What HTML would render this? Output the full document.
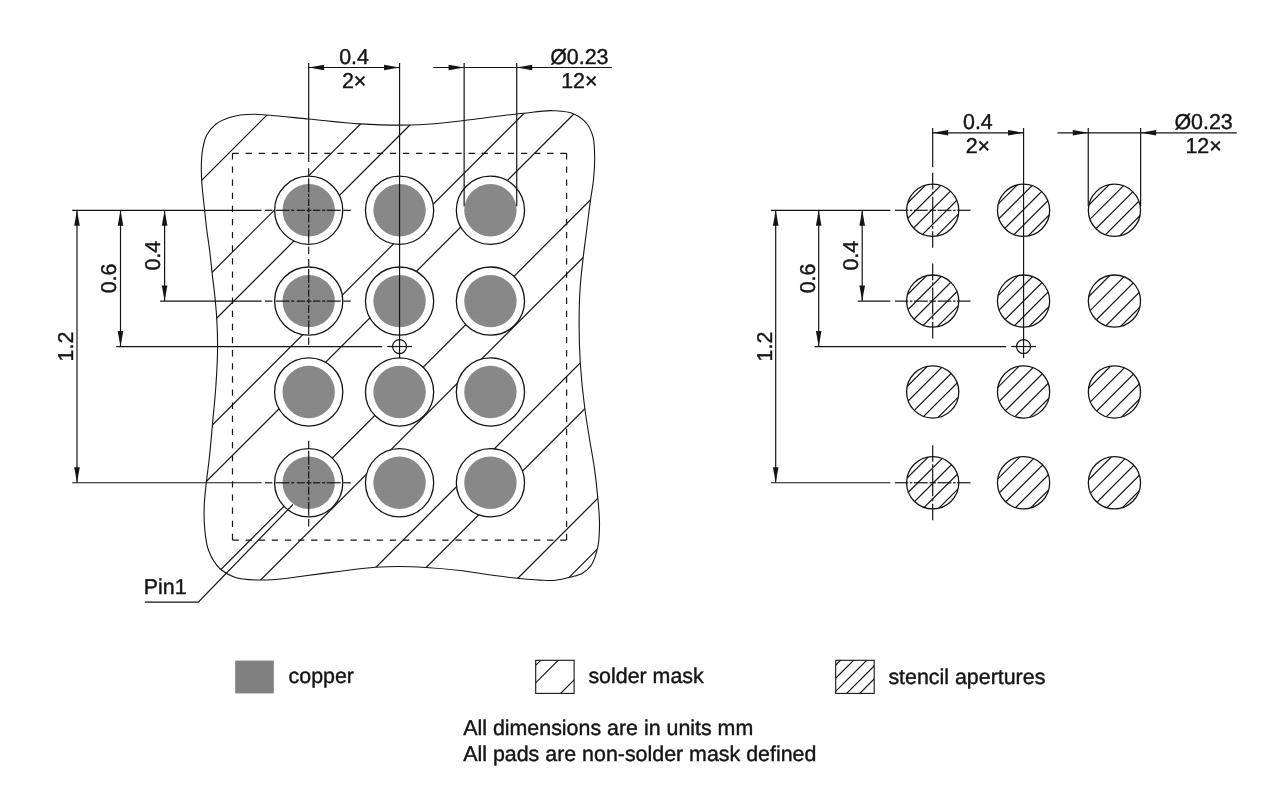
<!DOCTYPE html>
<html lang="en">
<head>
<meta charset="utf-8">
<title>Footprint and stencil drawing</title>
<style>
html,body{margin:0;padding:0;background:#fff;}
body{width:1280px;height:812px;overflow:hidden;font-family:"Liberation Sans",sans-serif;}
svg{display:block;}
text{stroke:#141414;stroke-width:0.4px;text-rendering:geometricPrecision;}
svg{display:block;will-change:transform;}
</style>
</head>
<body>
<svg width="1280" height="812" viewBox="0 0 1280 812" font-family="'Liberation Sans', sans-serif" fill="#141414" stroke="#141414" stroke-linecap="butt">
<defs>
<clipPath id="cpOut"><path d="M201.3,168.8 C201.32,162.23 201.47,155.53 202.7,149.1 C203.6,144.43 204.42,139.44 206.6,135.3 C208.73,131.26 211.96,127.38 215.5,124.5 C219.4,121.32 224.51,119.29 229.3,117.6 C237.31,114.77 246.33,114.16 254.9,114.2 C258.83,114.22 262.77,114.71 266.7,115 C280.72,116.03 294.7,117.67 308.7,119 C325.9,120.64 343.06,122.9 360.3,123.9 C373.41,124.66 386.56,125.13 399.7,125.1 C406.47,125.08 413.24,124.99 420,124.7 C434.68,124.06 449.29,122.13 463.9,120.5 C475.95,119.16 487.96,117.43 500,116 C507.86,115.07 515.72,114.11 523.6,113.3 C533.45,112.29 543.38,110.14 553.2,110.7 C560.12,111.09 567.73,111.16 573.9,114 C578.59,116.16 583.47,119.47 586.7,123.5 C589.38,126.84 591.24,131.19 592.6,135.3 C594.64,141.47 594.36,148.42 594.6,155 C594.88,162.88 594.36,170.84 593.6,178.7 C592.93,185.63 591.55,192.49 590.6,199.4 C589.2,209.59 588,219.8 586.7,230 C585.5,239.43 584.18,248.85 583.1,258.3 C582.02,267.75 580.87,277.21 580.2,286.7 C579.34,298.93 579.11,311.23 579.1,323.5 C579.09,336.23 579.44,348.99 580.2,361.7 C581.14,377.34 582.74,392.97 584.8,408.5 C586.19,419.03 588.01,429.51 589.7,440 C591.29,449.87 593.23,459.7 594.6,469.6 C595.96,479.4 597.06,489.24 597.9,499.1 C598.63,507.62 599.6,516.17 599.5,524.7 C599.42,531.94 599.44,539.39 597.9,546.4 C596.41,553.17 594.91,560.82 590.6,566.1 C588.46,568.72 585.7,571.22 582.8,573 C579.04,575.31 574.33,576.12 570,577.3 C565.15,578.62 560.18,579.83 555.2,580.3 C550.09,580.79 544.86,580.31 539.7,580.1 C532.22,579.8 524.75,579.05 517.3,578.3 C509.18,577.48 501.09,576.38 493,575.3 C482.82,573.93 472.7,572.04 462.5,570.8 C450.34,569.33 438.12,568.23 425.9,567.5 C417.11,566.98 408.3,566.51 399.5,566.5 C391.4,566.49 383.28,566.77 375.2,567.3 C363.63,568.06 352.12,569.81 340.6,571.2 C327.05,572.84 313.53,574.7 300,576.5 C295.03,577.16 290.08,577.97 285.1,578.5 C277,579.36 268.82,580.18 260.7,580 C251.85,579.81 242.31,580.16 234.2,577 C229.12,575.02 223.78,572.17 219.8,568.5 C214.82,563.91 211.21,557.16 208.7,550.8 C205.98,543.93 205.45,536.06 204.7,528.6 C203.97,521.29 203.98,513.85 204.2,506.5 C204.45,497.98 205.58,489.48 206.5,481 C207.26,473.99 208.31,467.01 209.1,460 C210.45,448.02 211.4,436 212.5,424 C213.67,411.27 215.05,398.55 215.9,385.8 C216.78,372.59 217.61,359.34 217.6,346.1 C217.59,336.67 217.3,327.22 216.7,317.8 C216.34,312.13 215.83,306.46 215.3,300.8 C214.37,290.88 213,281 211.9,271.1 C211.12,264.07 210.48,257.02 209.6,250 C208.77,243.32 207.64,236.68 206.8,230 C205.97,223.41 205.3,216.8 204.6,210.2 C203.55,200.21 202.22,190.23 201.7,180.2 C201.5,176.4 201.29,172.6 201.3,168.8Z"/></clipPath>
<mask id="mkMask" maskUnits="userSpaceOnUse" x="0" y="0" width="1280" height="812">
<path d="M201.3,168.8 C201.32,162.23 201.47,155.53 202.7,149.1 C203.6,144.43 204.42,139.44 206.6,135.3 C208.73,131.26 211.96,127.38 215.5,124.5 C219.4,121.32 224.51,119.29 229.3,117.6 C237.31,114.77 246.33,114.16 254.9,114.2 C258.83,114.22 262.77,114.71 266.7,115 C280.72,116.03 294.7,117.67 308.7,119 C325.9,120.64 343.06,122.9 360.3,123.9 C373.41,124.66 386.56,125.13 399.7,125.1 C406.47,125.08 413.24,124.99 420,124.7 C434.68,124.06 449.29,122.13 463.9,120.5 C475.95,119.16 487.96,117.43 500,116 C507.86,115.07 515.72,114.11 523.6,113.3 C533.45,112.29 543.38,110.14 553.2,110.7 C560.12,111.09 567.73,111.16 573.9,114 C578.59,116.16 583.47,119.47 586.7,123.5 C589.38,126.84 591.24,131.19 592.6,135.3 C594.64,141.47 594.36,148.42 594.6,155 C594.88,162.88 594.36,170.84 593.6,178.7 C592.93,185.63 591.55,192.49 590.6,199.4 C589.2,209.59 588,219.8 586.7,230 C585.5,239.43 584.18,248.85 583.1,258.3 C582.02,267.75 580.87,277.21 580.2,286.7 C579.34,298.93 579.11,311.23 579.1,323.5 C579.09,336.23 579.44,348.99 580.2,361.7 C581.14,377.34 582.74,392.97 584.8,408.5 C586.19,419.03 588.01,429.51 589.7,440 C591.29,449.87 593.23,459.7 594.6,469.6 C595.96,479.4 597.06,489.24 597.9,499.1 C598.63,507.62 599.6,516.17 599.5,524.7 C599.42,531.94 599.44,539.39 597.9,546.4 C596.41,553.17 594.91,560.82 590.6,566.1 C588.46,568.72 585.7,571.22 582.8,573 C579.04,575.31 574.33,576.12 570,577.3 C565.15,578.62 560.18,579.83 555.2,580.3 C550.09,580.79 544.86,580.31 539.7,580.1 C532.22,579.8 524.75,579.05 517.3,578.3 C509.18,577.48 501.09,576.38 493,575.3 C482.82,573.93 472.7,572.04 462.5,570.8 C450.34,569.33 438.12,568.23 425.9,567.5 C417.11,566.98 408.3,566.51 399.5,566.5 C391.4,566.49 383.28,566.77 375.2,567.3 C363.63,568.06 352.12,569.81 340.6,571.2 C327.05,572.84 313.53,574.7 300,576.5 C295.03,577.16 290.08,577.97 285.1,578.5 C277,579.36 268.82,580.18 260.7,580 C251.85,579.81 242.31,580.16 234.2,577 C229.12,575.02 223.78,572.17 219.8,568.5 C214.82,563.91 211.21,557.16 208.7,550.8 C205.98,543.93 205.45,536.06 204.7,528.6 C203.97,521.29 203.98,513.85 204.2,506.5 C204.45,497.98 205.58,489.48 206.5,481 C207.26,473.99 208.31,467.01 209.1,460 C210.45,448.02 211.4,436 212.5,424 C213.67,411.27 215.05,398.55 215.9,385.8 C216.78,372.59 217.61,359.34 217.6,346.1 C217.59,336.67 217.3,327.22 216.7,317.8 C216.34,312.13 215.83,306.46 215.3,300.8 C214.37,290.88 213,281 211.9,271.1 C211.12,264.07 210.48,257.02 209.6,250 C208.77,243.32 207.64,236.68 206.8,230 C205.97,223.41 205.3,216.8 204.6,210.2 C203.55,200.21 202.22,190.23 201.7,180.2 C201.5,176.4 201.29,172.6 201.3,168.8Z" fill="#fff" stroke="none"/>
<circle cx="308.7" cy="210.3" r="34.1" fill="#000" stroke="none"/>
<circle cx="308.7" cy="301.12" r="34.1" fill="#000" stroke="none"/>
<circle cx="308.7" cy="391.94" r="34.1" fill="#000" stroke="none"/>
<circle cx="308.7" cy="482.76" r="34.1" fill="#000" stroke="none"/>
<circle cx="399.57" cy="210.3" r="34.1" fill="#000" stroke="none"/>
<circle cx="399.57" cy="301.12" r="34.1" fill="#000" stroke="none"/>
<circle cx="399.57" cy="391.94" r="34.1" fill="#000" stroke="none"/>
<circle cx="399.57" cy="482.76" r="34.1" fill="#000" stroke="none"/>
<circle cx="490.44" cy="210.3" r="34.1" fill="#000" stroke="none"/>
<circle cx="490.44" cy="301.12" r="34.1" fill="#000" stroke="none"/>
<circle cx="490.44" cy="391.94" r="34.1" fill="#000" stroke="none"/>
<circle cx="490.44" cy="482.76" r="34.1" fill="#000" stroke="none"/>
</mask>
<clipPath id="cs00"><circle cx="932.7" cy="210.3" r="26.1"/></clipPath>
<clipPath id="cs01"><circle cx="932.7" cy="301.12" r="26.1"/></clipPath>
<clipPath id="cs02"><circle cx="932.7" cy="391.94" r="26.1"/></clipPath>
<clipPath id="cs03"><circle cx="932.7" cy="482.76" r="26.1"/></clipPath>
<clipPath id="cs10"><circle cx="1023.57" cy="210.3" r="26.1"/></clipPath>
<clipPath id="cs11"><circle cx="1023.57" cy="301.12" r="26.1"/></clipPath>
<clipPath id="cs12"><circle cx="1023.57" cy="391.94" r="26.1"/></clipPath>
<clipPath id="cs13"><circle cx="1023.57" cy="482.76" r="26.1"/></clipPath>
<clipPath id="cs20"><circle cx="1114.44" cy="210.3" r="26.1"/></clipPath>
<clipPath id="cs21"><circle cx="1114.44" cy="301.12" r="26.1"/></clipPath>
<clipPath id="cs22"><circle cx="1114.44" cy="391.94" r="26.1"/></clipPath>
<clipPath id="cs23"><circle cx="1114.44" cy="482.76" r="26.1"/></clipPath>
<clipPath id="cbM"><rect x="535.7" y="660.3" width="38.4" height="33.1"/></clipPath>
<clipPath id="cbS"><rect x="835.7" y="660.3" width="38.5" height="33.1"/></clipPath>
<pattern id="cu" patternUnits="userSpaceOnUse" x="0" y="0" width="4" height="2"><rect x="0" y="0" width="4" height="2" fill="#8a8a8a" stroke="none"/><rect x="0" y="0" width="4" height="1" fill="#868686" stroke="none"/></pattern>
</defs>
<rect x="0" y="0" width="1280" height="812" fill="#fff" stroke="none"/>
<g mask="url(#mkMask)" stroke-width="1">
<line x1="-318" y1="700" x2="332" y2="50" stroke-width="1.2" />
<line x1="-165.1" y1="700" x2="484.9" y2="50" stroke-width="1.2" />
<line x1="-12.2" y1="700" x2="637.8" y2="50" stroke-width="1.2" />
<line x1="140.7" y1="700" x2="790.7" y2="50" stroke-width="1.2" />
<line x1="293.6" y1="700" x2="943.6" y2="50" stroke-width="1.2" />
<line x1="446.5" y1="700" x2="1096.5" y2="50" stroke-width="1.2" />
<line x1="-215.5" y1="700" x2="434.5" y2="50" stroke-width="1.2" />
<line x1="-62.6" y1="700" x2="587.4" y2="50" stroke-width="1.2" />
<line x1="90.3" y1="700" x2="740.3" y2="50" stroke-width="1.2" />
<line x1="243.2" y1="700" x2="893.2" y2="50" stroke-width="1.2" />
<line x1="396.1" y1="700" x2="1046.1" y2="50" stroke-width="1.2" />
</g>
<path d="M201.3,168.8 C201.32,162.23 201.47,155.53 202.7,149.1 C203.6,144.43 204.42,139.44 206.6,135.3 C208.73,131.26 211.96,127.38 215.5,124.5 C219.4,121.32 224.51,119.29 229.3,117.6 C237.31,114.77 246.33,114.16 254.9,114.2 C258.83,114.22 262.77,114.71 266.7,115 C280.72,116.03 294.7,117.67 308.7,119 C325.9,120.64 343.06,122.9 360.3,123.9 C373.41,124.66 386.56,125.13 399.7,125.1 C406.47,125.08 413.24,124.99 420,124.7 C434.68,124.06 449.29,122.13 463.9,120.5 C475.95,119.16 487.96,117.43 500,116 C507.86,115.07 515.72,114.11 523.6,113.3 C533.45,112.29 543.38,110.14 553.2,110.7 C560.12,111.09 567.73,111.16 573.9,114 C578.59,116.16 583.47,119.47 586.7,123.5 C589.38,126.84 591.24,131.19 592.6,135.3 C594.64,141.47 594.36,148.42 594.6,155 C594.88,162.88 594.36,170.84 593.6,178.7 C592.93,185.63 591.55,192.49 590.6,199.4 C589.2,209.59 588,219.8 586.7,230 C585.5,239.43 584.18,248.85 583.1,258.3 C582.02,267.75 580.87,277.21 580.2,286.7 C579.34,298.93 579.11,311.23 579.1,323.5 C579.09,336.23 579.44,348.99 580.2,361.7 C581.14,377.34 582.74,392.97 584.8,408.5 C586.19,419.03 588.01,429.51 589.7,440 C591.29,449.87 593.23,459.7 594.6,469.6 C595.96,479.4 597.06,489.24 597.9,499.1 C598.63,507.62 599.6,516.17 599.5,524.7 C599.42,531.94 599.44,539.39 597.9,546.4 C596.41,553.17 594.91,560.82 590.6,566.1 C588.46,568.72 585.7,571.22 582.8,573 C579.04,575.31 574.33,576.12 570,577.3 C565.15,578.62 560.18,579.83 555.2,580.3 C550.09,580.79 544.86,580.31 539.7,580.1 C532.22,579.8 524.75,579.05 517.3,578.3 C509.18,577.48 501.09,576.38 493,575.3 C482.82,573.93 472.7,572.04 462.5,570.8 C450.34,569.33 438.12,568.23 425.9,567.5 C417.11,566.98 408.3,566.51 399.5,566.5 C391.4,566.49 383.28,566.77 375.2,567.3 C363.63,568.06 352.12,569.81 340.6,571.2 C327.05,572.84 313.53,574.7 300,576.5 C295.03,577.16 290.08,577.97 285.1,578.5 C277,579.36 268.82,580.18 260.7,580 C251.85,579.81 242.31,580.16 234.2,577 C229.12,575.02 223.78,572.17 219.8,568.5 C214.82,563.91 211.21,557.16 208.7,550.8 C205.98,543.93 205.45,536.06 204.7,528.6 C203.97,521.29 203.98,513.85 204.2,506.5 C204.45,497.98 205.58,489.48 206.5,481 C207.26,473.99 208.31,467.01 209.1,460 C210.45,448.02 211.4,436 212.5,424 C213.67,411.27 215.05,398.55 215.9,385.8 C216.78,372.59 217.61,359.34 217.6,346.1 C217.59,336.67 217.3,327.22 216.7,317.8 C216.34,312.13 215.83,306.46 215.3,300.8 C214.37,290.88 213,281 211.9,271.1 C211.12,264.07 210.48,257.02 209.6,250 C208.77,243.32 207.64,236.68 206.8,230 C205.97,223.41 205.3,216.8 204.6,210.2 C203.55,200.21 202.22,190.23 201.7,180.2 C201.5,176.4 201.29,172.6 201.3,168.8Z" fill="none" stroke-width="1.1"/>
<line x1="232.5" y1="153.3" x2="566.6" y2="153.3" stroke-width="1.2" stroke-dasharray="6.3 6.81"/>
<line x1="232.5" y1="540.2" x2="566.6" y2="540.2" stroke-width="1.2" stroke-dasharray="6.3 6.81"/>
<line x1="232.5" y1="153.3" x2="232.5" y2="540.2" stroke-width="1.2" stroke-dasharray="6.3 6.82"/>
<line x1="566.6" y1="153.3" x2="566.6" y2="540.2" stroke-width="1.2" stroke-dasharray="6.3 6.82"/>
<circle cx="308.7" cy="210.3" r="26.2" fill="url(#cu)" stroke="none"/>
<circle cx="308.7" cy="210.3" r="34.1" fill="none" stroke-width="1.3"/>
<circle cx="308.7" cy="301.12" r="26.2" fill="url(#cu)" stroke="none"/>
<circle cx="308.7" cy="301.12" r="34.1" fill="none" stroke-width="1.3"/>
<circle cx="308.7" cy="391.94" r="26.2" fill="url(#cu)" stroke="none"/>
<circle cx="308.7" cy="391.94" r="34.1" fill="none" stroke-width="1.3"/>
<circle cx="308.7" cy="482.76" r="26.2" fill="url(#cu)" stroke="none"/>
<circle cx="308.7" cy="482.76" r="34.1" fill="none" stroke-width="1.3"/>
<circle cx="399.57" cy="210.3" r="26.2" fill="url(#cu)" stroke="none"/>
<circle cx="399.57" cy="210.3" r="34.1" fill="none" stroke-width="1.3"/>
<circle cx="399.57" cy="301.12" r="26.2" fill="url(#cu)" stroke="none"/>
<circle cx="399.57" cy="301.12" r="34.1" fill="none" stroke-width="1.3"/>
<circle cx="399.57" cy="391.94" r="26.2" fill="url(#cu)" stroke="none"/>
<circle cx="399.57" cy="391.94" r="34.1" fill="none" stroke-width="1.3"/>
<circle cx="399.57" cy="482.76" r="26.2" fill="url(#cu)" stroke="none"/>
<circle cx="399.57" cy="482.76" r="34.1" fill="none" stroke-width="1.3"/>
<circle cx="490.44" cy="210.3" r="26.2" fill="url(#cu)" stroke="none"/>
<circle cx="490.44" cy="210.3" r="34.1" fill="none" stroke-width="1.3"/>
<circle cx="490.44" cy="301.12" r="26.2" fill="url(#cu)" stroke="none"/>
<circle cx="490.44" cy="301.12" r="34.1" fill="none" stroke-width="1.3"/>
<circle cx="490.44" cy="391.94" r="26.2" fill="url(#cu)" stroke="none"/>
<circle cx="490.44" cy="391.94" r="34.1" fill="none" stroke-width="1.3"/>
<circle cx="490.44" cy="482.76" r="26.2" fill="url(#cu)" stroke="none"/>
<circle cx="490.44" cy="482.76" r="34.1" fill="none" stroke-width="1.3"/>
<line x1="308.7" y1="63" x2="308.7" y2="162" stroke-width="1.2" />
<line x1="399.57" y1="63" x2="399.57" y2="358.13" stroke-width="1.2" />
<line x1="308.7" y1="67.5" x2="399.57" y2="67.5" stroke-width="1.2" />
<polygon points="308.7,67.5 324.2,64.7 324.2,70.3" fill="#141414" stroke="none"/>
<polygon points="399.57,67.5 384.07,64.7 384.07,70.3" fill="#141414" stroke="none"/>
<text x="354.1" y="63.8" text-anchor="middle" font-size="21.4">0.4</text>
<text x="354.1" y="87.9" text-anchor="middle" font-size="21.4">2×</text>
<line x1="464.14" y1="63" x2="464.14" y2="206.3" stroke-width="1.2" />
<line x1="516.74" y1="63" x2="516.74" y2="206.3" stroke-width="1.2" />
<line x1="433.3" y1="67.5" x2="611.9" y2="67.5" stroke-width="1.2" />
<polygon points="464.14,67.5 448.64,64.7 448.64,70.3" fill="#141414" stroke="none"/>
<polygon points="516.74,67.5 532.24,64.7 532.24,70.3" fill="#141414" stroke="none"/>
<text x="579.3" y="63.6" text-anchor="middle" font-size="21.4">Ø0.23</text>
<text x="579.3" y="87.9" text-anchor="middle" font-size="21.4">12×</text>
<line x1="72.2" y1="210.3" x2="261.6" y2="210.3" stroke-width="1.2" />
<line x1="160.1" y1="301.12" x2="261.6" y2="301.12" stroke-width="1.2" />
<line x1="116.2" y1="346.53" x2="382.17" y2="346.53" stroke-width="1.2" />
<line x1="72.2" y1="482.76" x2="261.6" y2="482.76" stroke-width="1.2" />
<line x1="77" y1="210.3" x2="77" y2="482.76" stroke-width="1.2" />
<polygon points="77,210.3 74.2,225.8 79.8,225.8" fill="#141414" stroke="none"/>
<polygon points="77,482.76 74.2,467.26 79.8,467.26" fill="#141414" stroke="none"/>
<line x1="120.5" y1="210.3" x2="120.5" y2="346.53" stroke-width="1.2" />
<polygon points="120.5,210.3 117.7,225.8 123.3,225.8" fill="#141414" stroke="none"/>
<polygon points="120.5,346.53 117.7,331.03 123.3,331.03" fill="#141414" stroke="none"/>
<line x1="164.6" y1="210.3" x2="164.6" y2="301.12" stroke-width="1.2" />
<polygon points="164.6,210.3 161.8,225.8 167.4,225.8" fill="#141414" stroke="none"/>
<polygon points="164.6,301.12 161.8,285.62 167.4,285.62" fill="#141414" stroke="none"/>
<text x="72.9" y="346.53" text-anchor="middle" font-size="21.4" transform="rotate(-90 72.9 346.53)">1.2</text>
<text x="116.4" y="278.41" text-anchor="middle" font-size="21.4" transform="rotate(-90 116.4 278.41)">0.6</text>
<text x="160.5" y="255.71" text-anchor="middle" font-size="21.4" transform="rotate(-90 160.5 255.71)">0.4</text>
<circle cx="399.57" cy="346.53" r="7" fill="none" stroke-width="1.2"/>
<line x1="387.17" y1="346.53" x2="411.97" y2="346.53" stroke-width="1.2" />
<line x1="308.7" y1="168.2" x2="308.7" y2="175.5" stroke-width="1.2" />
<line x1="308.7" y1="178.3" x2="308.7" y2="192.2" stroke-width="1.2" />
<line x1="308.7" y1="193.8" x2="308.7" y2="197" stroke-width="1.2" />
<line x1="308.7" y1="198.7" x2="308.7" y2="206" stroke-width="1.2" />
<line x1="308.7" y1="207.6" x2="308.7" y2="212.5" stroke-width="1.2" />
<line x1="308.7" y1="214.1" x2="308.7" y2="222.3" stroke-width="1.2" />
<line x1="308.7" y1="224.7" x2="308.7" y2="227.9" stroke-width="1.2" />
<line x1="308.7" y1="229.6" x2="308.7" y2="243.4" stroke-width="1.2" />
<line x1="308.7" y1="246.6" x2="308.7" y2="254" stroke-width="1.2" />
<line x1="265" y1="210.3" x2="272.4" y2="210.3" stroke-width="1.2" />
<line x1="275.6" y1="210.3" x2="289.4" y2="210.3" stroke-width="1.2" />
<line x1="291.1" y1="210.3" x2="294.3" y2="210.3" stroke-width="1.2" />
<line x1="296.7" y1="210.3" x2="304.9" y2="210.3" stroke-width="1.2" />
<line x1="306.5" y1="210.3" x2="311.4" y2="210.3" stroke-width="1.2" />
<line x1="313" y1="210.3" x2="320.3" y2="210.3" stroke-width="1.2" />
<line x1="322" y1="210.3" x2="325.2" y2="210.3" stroke-width="1.2" />
<line x1="326.8" y1="210.3" x2="340.7" y2="210.3" stroke-width="1.2" />
<line x1="343.5" y1="210.3" x2="350.8" y2="210.3" stroke-width="1.2" />
<line x1="308.7" y1="259.02" x2="308.7" y2="266.32" stroke-width="1.2" />
<line x1="308.7" y1="269.12" x2="308.7" y2="283.02" stroke-width="1.2" />
<line x1="308.7" y1="284.62" x2="308.7" y2="287.82" stroke-width="1.2" />
<line x1="308.7" y1="289.52" x2="308.7" y2="296.82" stroke-width="1.2" />
<line x1="308.7" y1="298.42" x2="308.7" y2="303.32" stroke-width="1.2" />
<line x1="308.7" y1="304.92" x2="308.7" y2="313.12" stroke-width="1.2" />
<line x1="308.7" y1="315.52" x2="308.7" y2="318.72" stroke-width="1.2" />
<line x1="308.7" y1="320.42" x2="308.7" y2="334.22" stroke-width="1.2" />
<line x1="308.7" y1="337.42" x2="308.7" y2="344.82" stroke-width="1.2" />
<line x1="265" y1="301.12" x2="272.4" y2="301.12" stroke-width="1.2" />
<line x1="275.6" y1="301.12" x2="289.4" y2="301.12" stroke-width="1.2" />
<line x1="291.1" y1="301.12" x2="294.3" y2="301.12" stroke-width="1.2" />
<line x1="296.7" y1="301.12" x2="304.9" y2="301.12" stroke-width="1.2" />
<line x1="306.5" y1="301.12" x2="311.4" y2="301.12" stroke-width="1.2" />
<line x1="313" y1="301.12" x2="320.3" y2="301.12" stroke-width="1.2" />
<line x1="322" y1="301.12" x2="325.2" y2="301.12" stroke-width="1.2" />
<line x1="326.8" y1="301.12" x2="340.7" y2="301.12" stroke-width="1.2" />
<line x1="343.5" y1="301.12" x2="350.8" y2="301.12" stroke-width="1.2" />
<line x1="308.7" y1="440.66" x2="308.7" y2="447.96" stroke-width="1.2" />
<line x1="308.7" y1="450.76" x2="308.7" y2="464.66" stroke-width="1.2" />
<line x1="308.7" y1="466.26" x2="308.7" y2="469.46" stroke-width="1.2" />
<line x1="308.7" y1="471.16" x2="308.7" y2="478.46" stroke-width="1.2" />
<line x1="308.7" y1="480.06" x2="308.7" y2="484.96" stroke-width="1.2" />
<line x1="308.7" y1="486.56" x2="308.7" y2="494.76" stroke-width="1.2" />
<line x1="308.7" y1="497.16" x2="308.7" y2="500.36" stroke-width="1.2" />
<line x1="308.7" y1="502.06" x2="308.7" y2="515.86" stroke-width="1.2" />
<line x1="308.7" y1="519.06" x2="308.7" y2="526.46" stroke-width="1.2" />
<line x1="265" y1="482.76" x2="272.4" y2="482.76" stroke-width="1.2" />
<line x1="275.6" y1="482.76" x2="289.4" y2="482.76" stroke-width="1.2" />
<line x1="291.1" y1="482.76" x2="294.3" y2="482.76" stroke-width="1.2" />
<line x1="296.7" y1="482.76" x2="304.9" y2="482.76" stroke-width="1.2" />
<line x1="306.5" y1="482.76" x2="311.4" y2="482.76" stroke-width="1.2" />
<line x1="313" y1="482.76" x2="320.3" y2="482.76" stroke-width="1.2" />
<line x1="322" y1="482.76" x2="325.2" y2="482.76" stroke-width="1.2" />
<line x1="326.8" y1="482.76" x2="340.7" y2="482.76" stroke-width="1.2" />
<line x1="343.5" y1="482.76" x2="350.8" y2="482.76" stroke-width="1.2" />
<polyline points="145,602.2 198.3,602.2 293,504.5" fill="none" stroke-width="1.2"/>
<text x="143.8" y="594.3" text-anchor="start" font-size="21.4">Pin1</text>
<g clip-path="url(#cs00)">
<line x1="844.95" y1="250.3" x2="924.95" y2="170.3" stroke-width="1.2" />
<line x1="860.4" y1="250.3" x2="940.4" y2="170.3" stroke-width="1.2" />
<line x1="875.85" y1="250.3" x2="955.85" y2="170.3" stroke-width="1.2" />
<line x1="891.3" y1="250.3" x2="971.3" y2="170.3" stroke-width="1.2" />
<line x1="906.75" y1="250.3" x2="986.75" y2="170.3" stroke-width="1.2" />
<line x1="922.2" y1="250.3" x2="1002.2" y2="170.3" stroke-width="1.2" />
<line x1="937.65" y1="250.3" x2="1017.65" y2="170.3" stroke-width="1.2" />
</g>
<circle cx="932.7" cy="210.3" r="26.1" fill="none" stroke-width="1.3"/>
<g clip-path="url(#cs01)">
<line x1="845.63" y1="341.12" x2="925.63" y2="261.12" stroke-width="1.2" />
<line x1="861.08" y1="341.12" x2="941.08" y2="261.12" stroke-width="1.2" />
<line x1="876.53" y1="341.12" x2="956.53" y2="261.12" stroke-width="1.2" />
<line x1="891.98" y1="341.12" x2="971.98" y2="261.12" stroke-width="1.2" />
<line x1="907.43" y1="341.12" x2="987.43" y2="261.12" stroke-width="1.2" />
<line x1="922.88" y1="341.12" x2="1002.88" y2="261.12" stroke-width="1.2" />
<line x1="938.33" y1="341.12" x2="1018.33" y2="261.12" stroke-width="1.2" />
</g>
<circle cx="932.7" cy="301.12" r="26.1" fill="none" stroke-width="1.3"/>
<g clip-path="url(#cs02)">
<line x1="846.31" y1="431.94" x2="926.31" y2="351.94" stroke-width="1.2" />
<line x1="861.76" y1="431.94" x2="941.76" y2="351.94" stroke-width="1.2" />
<line x1="877.21" y1="431.94" x2="957.21" y2="351.94" stroke-width="1.2" />
<line x1="892.66" y1="431.94" x2="972.66" y2="351.94" stroke-width="1.2" />
<line x1="908.11" y1="431.94" x2="988.11" y2="351.94" stroke-width="1.2" />
<line x1="923.56" y1="431.94" x2="1003.56" y2="351.94" stroke-width="1.2" />
<line x1="939.01" y1="431.94" x2="1019.01" y2="351.94" stroke-width="1.2" />
</g>
<circle cx="932.7" cy="391.94" r="26.1" fill="none" stroke-width="1.3"/>
<g clip-path="url(#cs03)">
<line x1="846.99" y1="522.76" x2="926.99" y2="442.76" stroke-width="1.2" />
<line x1="862.44" y1="522.76" x2="942.44" y2="442.76" stroke-width="1.2" />
<line x1="877.89" y1="522.76" x2="957.89" y2="442.76" stroke-width="1.2" />
<line x1="893.34" y1="522.76" x2="973.34" y2="442.76" stroke-width="1.2" />
<line x1="908.79" y1="522.76" x2="988.79" y2="442.76" stroke-width="1.2" />
<line x1="924.24" y1="522.76" x2="1004.24" y2="442.76" stroke-width="1.2" />
<line x1="939.69" y1="522.76" x2="1019.69" y2="442.76" stroke-width="1.2" />
</g>
<circle cx="932.7" cy="482.76" r="26.1" fill="none" stroke-width="1.3"/>
<g clip-path="url(#cs10)">
<line x1="936.5" y1="250.3" x2="1016.5" y2="170.3" stroke-width="1.2" />
<line x1="951.95" y1="250.3" x2="1031.95" y2="170.3" stroke-width="1.2" />
<line x1="967.4" y1="250.3" x2="1047.4" y2="170.3" stroke-width="1.2" />
<line x1="982.85" y1="250.3" x2="1062.85" y2="170.3" stroke-width="1.2" />
<line x1="998.3" y1="250.3" x2="1078.3" y2="170.3" stroke-width="1.2" />
<line x1="1013.75" y1="250.3" x2="1093.75" y2="170.3" stroke-width="1.2" />
<line x1="1029.2" y1="250.3" x2="1109.2" y2="170.3" stroke-width="1.2" />
</g>
<circle cx="1023.57" cy="210.3" r="26.1" fill="none" stroke-width="1.3"/>
<g clip-path="url(#cs11)">
<line x1="937.18" y1="341.12" x2="1017.18" y2="261.12" stroke-width="1.2" />
<line x1="952.63" y1="341.12" x2="1032.63" y2="261.12" stroke-width="1.2" />
<line x1="968.08" y1="341.12" x2="1048.08" y2="261.12" stroke-width="1.2" />
<line x1="983.53" y1="341.12" x2="1063.53" y2="261.12" stroke-width="1.2" />
<line x1="998.98" y1="341.12" x2="1078.98" y2="261.12" stroke-width="1.2" />
<line x1="1014.43" y1="341.12" x2="1094.43" y2="261.12" stroke-width="1.2" />
<line x1="1029.88" y1="341.12" x2="1109.88" y2="261.12" stroke-width="1.2" />
</g>
<circle cx="1023.57" cy="301.12" r="26.1" fill="none" stroke-width="1.3"/>
<g clip-path="url(#cs12)">
<line x1="937.86" y1="431.94" x2="1017.86" y2="351.94" stroke-width="1.2" />
<line x1="953.31" y1="431.94" x2="1033.31" y2="351.94" stroke-width="1.2" />
<line x1="968.76" y1="431.94" x2="1048.76" y2="351.94" stroke-width="1.2" />
<line x1="984.21" y1="431.94" x2="1064.21" y2="351.94" stroke-width="1.2" />
<line x1="999.66" y1="431.94" x2="1079.66" y2="351.94" stroke-width="1.2" />
<line x1="1015.11" y1="431.94" x2="1095.11" y2="351.94" stroke-width="1.2" />
<line x1="1030.56" y1="431.94" x2="1110.56" y2="351.94" stroke-width="1.2" />
</g>
<circle cx="1023.57" cy="391.94" r="26.1" fill="none" stroke-width="1.3"/>
<g clip-path="url(#cs13)">
<line x1="938.54" y1="522.76" x2="1018.54" y2="442.76" stroke-width="1.2" />
<line x1="953.99" y1="522.76" x2="1033.99" y2="442.76" stroke-width="1.2" />
<line x1="969.44" y1="522.76" x2="1049.44" y2="442.76" stroke-width="1.2" />
<line x1="984.89" y1="522.76" x2="1064.89" y2="442.76" stroke-width="1.2" />
<line x1="1000.34" y1="522.76" x2="1080.34" y2="442.76" stroke-width="1.2" />
<line x1="1015.79" y1="522.76" x2="1095.79" y2="442.76" stroke-width="1.2" />
<line x1="1031.24" y1="522.76" x2="1111.24" y2="442.76" stroke-width="1.2" />
</g>
<circle cx="1023.57" cy="482.76" r="26.1" fill="none" stroke-width="1.3"/>
<g clip-path="url(#cs20)">
<line x1="1028.05" y1="250.3" x2="1108.05" y2="170.3" stroke-width="1.2" />
<line x1="1043.5" y1="250.3" x2="1123.5" y2="170.3" stroke-width="1.2" />
<line x1="1058.95" y1="250.3" x2="1138.95" y2="170.3" stroke-width="1.2" />
<line x1="1074.4" y1="250.3" x2="1154.4" y2="170.3" stroke-width="1.2" />
<line x1="1089.85" y1="250.3" x2="1169.85" y2="170.3" stroke-width="1.2" />
<line x1="1105.3" y1="250.3" x2="1185.3" y2="170.3" stroke-width="1.2" />
<line x1="1120.75" y1="250.3" x2="1200.75" y2="170.3" stroke-width="1.2" />
</g>
<circle cx="1114.44" cy="210.3" r="26.1" fill="none" stroke-width="1.3"/>
<g clip-path="url(#cs21)">
<line x1="1028.73" y1="341.12" x2="1108.73" y2="261.12" stroke-width="1.2" />
<line x1="1044.18" y1="341.12" x2="1124.18" y2="261.12" stroke-width="1.2" />
<line x1="1059.63" y1="341.12" x2="1139.63" y2="261.12" stroke-width="1.2" />
<line x1="1075.08" y1="341.12" x2="1155.08" y2="261.12" stroke-width="1.2" />
<line x1="1090.53" y1="341.12" x2="1170.53" y2="261.12" stroke-width="1.2" />
<line x1="1105.98" y1="341.12" x2="1185.98" y2="261.12" stroke-width="1.2" />
<line x1="1121.43" y1="341.12" x2="1201.43" y2="261.12" stroke-width="1.2" />
</g>
<circle cx="1114.44" cy="301.12" r="26.1" fill="none" stroke-width="1.3"/>
<g clip-path="url(#cs22)">
<line x1="1029.41" y1="431.94" x2="1109.41" y2="351.94" stroke-width="1.2" />
<line x1="1044.86" y1="431.94" x2="1124.86" y2="351.94" stroke-width="1.2" />
<line x1="1060.31" y1="431.94" x2="1140.31" y2="351.94" stroke-width="1.2" />
<line x1="1075.76" y1="431.94" x2="1155.76" y2="351.94" stroke-width="1.2" />
<line x1="1091.21" y1="431.94" x2="1171.21" y2="351.94" stroke-width="1.2" />
<line x1="1106.66" y1="431.94" x2="1186.66" y2="351.94" stroke-width="1.2" />
<line x1="1122.11" y1="431.94" x2="1202.11" y2="351.94" stroke-width="1.2" />
</g>
<circle cx="1114.44" cy="391.94" r="26.1" fill="none" stroke-width="1.3"/>
<g clip-path="url(#cs23)">
<line x1="1030.09" y1="522.76" x2="1110.09" y2="442.76" stroke-width="1.2" />
<line x1="1045.54" y1="522.76" x2="1125.54" y2="442.76" stroke-width="1.2" />
<line x1="1060.99" y1="522.76" x2="1140.99" y2="442.76" stroke-width="1.2" />
<line x1="1076.44" y1="522.76" x2="1156.44" y2="442.76" stroke-width="1.2" />
<line x1="1091.89" y1="522.76" x2="1171.89" y2="442.76" stroke-width="1.2" />
<line x1="1107.34" y1="522.76" x2="1187.34" y2="442.76" stroke-width="1.2" />
<line x1="1122.79" y1="522.76" x2="1202.79" y2="442.76" stroke-width="1.2" />
</g>
<circle cx="1114.44" cy="482.76" r="26.1" fill="none" stroke-width="1.3"/>
<line x1="932.7" y1="128" x2="932.7" y2="167.3" stroke-width="1.2" />
<line x1="1023.57" y1="128" x2="1023.57" y2="358.13" stroke-width="1.2" />
<line x1="932.7" y1="132.8" x2="1023.57" y2="132.8" stroke-width="1.2" />
<polygon points="932.7,132.8 948.2,130 948.2,135.6" fill="#141414" stroke="none"/>
<polygon points="1023.57,132.8 1008.07,130 1008.07,135.6" fill="#141414" stroke="none"/>
<text x="977.9" y="129.1" text-anchor="middle" font-size="21.4">0.4</text>
<text x="977.9" y="153.2" text-anchor="middle" font-size="21.4">2×</text>
<line x1="1088.24" y1="128" x2="1088.24" y2="206.3" stroke-width="1.2" />
<line x1="1140.64" y1="128" x2="1140.64" y2="206.3" stroke-width="1.2" />
<line x1="1057.5" y1="132.8" x2="1236.8" y2="132.8" stroke-width="1.2" />
<polygon points="1088.24,132.8 1072.74,130 1072.74,135.6" fill="#141414" stroke="none"/>
<polygon points="1140.64,132.8 1156.14,130 1156.14,135.6" fill="#141414" stroke="none"/>
<text x="1203.6" y="128.9" text-anchor="middle" font-size="21.4">Ø0.23</text>
<text x="1203.6" y="153.2" text-anchor="middle" font-size="21.4">12×</text>
<line x1="770.9" y1="210.3" x2="890.3" y2="210.3" stroke-width="1.2" />
<line x1="857.7" y1="301.12" x2="890.3" y2="301.12" stroke-width="1.2" />
<line x1="814.4" y1="346.53" x2="1006.17" y2="346.53" stroke-width="1.2" />
<line x1="770.9" y1="482.76" x2="890.3" y2="482.76" stroke-width="1.2" />
<line x1="775.7" y1="210.3" x2="775.7" y2="482.76" stroke-width="1.2" />
<polygon points="775.7,210.3 772.9,225.8 778.5,225.8" fill="#141414" stroke="none"/>
<polygon points="775.7,482.76 772.9,467.26 778.5,467.26" fill="#141414" stroke="none"/>
<line x1="818.7" y1="210.3" x2="818.7" y2="346.53" stroke-width="1.2" />
<polygon points="818.7,210.3 815.9,225.8 821.5,225.8" fill="#141414" stroke="none"/>
<polygon points="818.7,346.53 815.9,331.03 821.5,331.03" fill="#141414" stroke="none"/>
<line x1="862.2" y1="210.3" x2="862.2" y2="301.12" stroke-width="1.2" />
<polygon points="862.2,210.3 859.4,225.8 865,225.8" fill="#141414" stroke="none"/>
<polygon points="862.2,301.12 859.4,285.62 865,285.62" fill="#141414" stroke="none"/>
<text x="771.6" y="346.53" text-anchor="middle" font-size="21.4" transform="rotate(-90 771.6 346.53)">1.2</text>
<text x="814.6" y="278.41" text-anchor="middle" font-size="21.4" transform="rotate(-90 814.6 278.41)">0.6</text>
<text x="858.1" y="255.71" text-anchor="middle" font-size="21.4" transform="rotate(-90 858.1 255.71)">0.4</text>
<circle cx="1023.57" cy="346.53" r="7" fill="none" stroke-width="1.2"/>
<line x1="1011.17" y1="346.53" x2="1035.97" y2="346.53" stroke-width="1.2" />
<line x1="932.7" y1="172.8" x2="932.7" y2="189.4" stroke-width="1.2" />
<line x1="932.7" y1="191.8" x2="932.7" y2="194.5" stroke-width="1.2" />
<line x1="932.7" y1="196.8" x2="932.7" y2="223.8" stroke-width="1.2" />
<line x1="932.7" y1="226.1" x2="932.7" y2="228.8" stroke-width="1.2" />
<line x1="932.7" y1="231.2" x2="932.7" y2="247.8" stroke-width="1.2" />
<line x1="894.9" y1="210.3" x2="908.3" y2="210.3" stroke-width="1.2" />
<line x1="909.9" y1="210.3" x2="912.4" y2="210.3" stroke-width="1.2" />
<line x1="914" y1="210.3" x2="927.8" y2="210.3" stroke-width="1.2" />
<line x1="929.5" y1="210.3" x2="935.9" y2="210.3" stroke-width="1.2" />
<line x1="937.6" y1="210.3" x2="951.4" y2="210.3" stroke-width="1.2" />
<line x1="953" y1="210.3" x2="955.5" y2="210.3" stroke-width="1.2" />
<line x1="957.1" y1="210.3" x2="970.5" y2="210.3" stroke-width="1.2" />
<line x1="932.7" y1="263.62" x2="932.7" y2="280.22" stroke-width="1.2" />
<line x1="932.7" y1="282.62" x2="932.7" y2="285.32" stroke-width="1.2" />
<line x1="932.7" y1="287.62" x2="932.7" y2="314.62" stroke-width="1.2" />
<line x1="932.7" y1="316.92" x2="932.7" y2="319.62" stroke-width="1.2" />
<line x1="932.7" y1="322.02" x2="932.7" y2="338.62" stroke-width="1.2" />
<line x1="894.9" y1="301.12" x2="908.3" y2="301.12" stroke-width="1.2" />
<line x1="909.9" y1="301.12" x2="912.4" y2="301.12" stroke-width="1.2" />
<line x1="914" y1="301.12" x2="927.8" y2="301.12" stroke-width="1.2" />
<line x1="929.5" y1="301.12" x2="935.9" y2="301.12" stroke-width="1.2" />
<line x1="937.6" y1="301.12" x2="951.4" y2="301.12" stroke-width="1.2" />
<line x1="953" y1="301.12" x2="955.5" y2="301.12" stroke-width="1.2" />
<line x1="957.1" y1="301.12" x2="970.5" y2="301.12" stroke-width="1.2" />
<line x1="932.7" y1="445.26" x2="932.7" y2="461.86" stroke-width="1.2" />
<line x1="932.7" y1="464.26" x2="932.7" y2="466.96" stroke-width="1.2" />
<line x1="932.7" y1="469.26" x2="932.7" y2="496.26" stroke-width="1.2" />
<line x1="932.7" y1="498.56" x2="932.7" y2="501.26" stroke-width="1.2" />
<line x1="932.7" y1="503.66" x2="932.7" y2="520.26" stroke-width="1.2" />
<line x1="894.9" y1="482.76" x2="908.3" y2="482.76" stroke-width="1.2" />
<line x1="909.9" y1="482.76" x2="912.4" y2="482.76" stroke-width="1.2" />
<line x1="914" y1="482.76" x2="927.8" y2="482.76" stroke-width="1.2" />
<line x1="929.5" y1="482.76" x2="935.9" y2="482.76" stroke-width="1.2" />
<line x1="937.6" y1="482.76" x2="951.4" y2="482.76" stroke-width="1.2" />
<line x1="953" y1="482.76" x2="955.5" y2="482.76" stroke-width="1.2" />
<line x1="957.1" y1="482.76" x2="970.5" y2="482.76" stroke-width="1.2" />
<rect x="235.2" y="660.6" width="38.6" height="32.8" fill="#808080" stroke="none"/>
<text x="288.6" y="682.9" text-anchor="start" font-size="21.4">copper</text>
<g clip-path="url(#cbM)">
<line x1="501" y1="700" x2="551" y2="650" stroke-width="1.2" />
<line x1="518.5" y1="700" x2="568.5" y2="650" stroke-width="1.2" />
<line x1="554" y1="700" x2="604" y2="650" stroke-width="1.2" />
</g>
<rect x="535.7" y="660.3" width="38.4" height="33.1" fill="none" stroke-width="1.1"/>
<text x="588.4" y="683.3" text-anchor="start" font-size="21.4">solder mask</text>
<g clip-path="url(#cbS)">
<line x1="800.8" y1="700" x2="850.8" y2="650" stroke-width="1.2" />
<line x1="813.9" y1="700" x2="863.9" y2="650" stroke-width="1.2" />
<line x1="827" y1="700" x2="877" y2="650" stroke-width="1.2" />
<line x1="840.1" y1="700" x2="890.1" y2="650" stroke-width="1.2" />
<line x1="853.2" y1="700" x2="903.2" y2="650" stroke-width="1.2" />
</g>
<rect x="835.7" y="660.3" width="38.5" height="33.1" fill="none" stroke-width="1.1"/>
<text x="888.4" y="683.6" text-anchor="start" font-size="21.4">stencil apertures</text>
<text x="463.2" y="735" text-anchor="start" font-size="21.4">All dimensions are in units mm</text>
<text x="463.2" y="761.2" text-anchor="start" font-size="21.4">All pads are non-solder mask defined</text>
</svg>
</body>
</html>
